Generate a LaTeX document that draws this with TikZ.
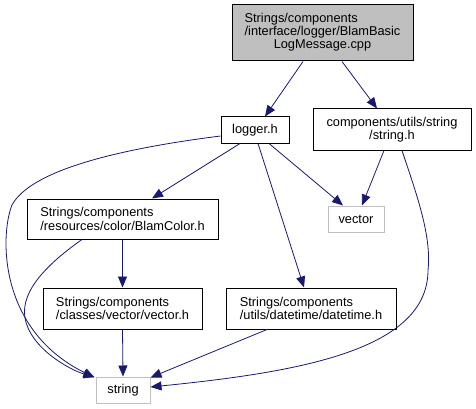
\documentclass[tikz,border=0pt]{standalone}
\usepackage{fontspec}
\setmainfont{Liberation Sans}
\usetikzlibrary{arrows.meta}
\definecolor{edgeblue}{HTML}{191970}
\definecolor{boxgray}{HTML}{BFBFBF}

\begin{document}
\begin{tikzpicture}[x=1pt, y=-1pt,
    file/.style={draw=black, line width=1pt, inner sep=0pt, font=\fontsize{12.8}{13.3}\selectfont},
    sysfile/.style={file, draw=boxgray},
    dep/.style={draw=edgeblue, line width=0.8pt, -{Triangle[length=11pt,width=9pt]}}]
    \useasboundingbox (0,0) rectangle (476,409);
    % files
    \node[file, fill=boxgray, minimum width=181pt, minimum height=56pt] (msg) at (322.5,33)
        {\begin{tabular}{@{}l@{}}Strings/components\\/interface/logger/BlamBasic\\\multicolumn{1}{@{}c@{}}{LogMessage.cpp}\end{tabular}};
    \node[file, minimum width=68pt, minimum height=26pt] (logger) at (255,130) {logger.h};
    \node[file, align=center, minimum width=158pt, minimum height=41pt] (strh) at (392,129.5) {components/utils/string\\/string.h};
    \node[sysfile, minimum width=56pt, minimum height=26pt] (vec) at (356,219) {vector};
    \node[file, align=left, minimum width=191pt, minimum height=40pt] (color) at (122.5,219) {Strings/components\\/resources/color/BlamColor.h};
    \node[file, align=left, minimum width=159pt, minimum height=41pt] (vech) at (122.5,308.5) {Strings/components\\/classes/vector/vector.h};
    \node[file, align=left, minimum width=170pt, minimum height=41pt] (dt) at (311,308.5) {Strings/components\\/utils/datetime/datetime.h};
    \node[sysfile, minimum width=54pt, minimum height=26pt] (str) at (123,390) {string};
    % includes
    \path ([xshift=-19.5pt]msg.south) edge[dep] ([xshift=10pt]logger.north);
    \path ([xshift=19.5pt]msg.south) edge[dep] ([xshift=-15pt]strh.north);
    \path ([xshift=-15pt]logger.south) edge[dep] ([xshift=29.5pt]color.north);
    \path ([xshift=14pt]logger.south) edge[dep] ([xshift=-13pt]vec.north);
    \path ([xshift=3pt]logger.south) edge[dep] ([xshift=-7pt]dt.north);
    \path ([xshift=-8pt]strh.south) edge[dep] ([xshift=6pt]vec.north);
    \path (color.south) edge[dep] (vech.north);
    \path (vech.south) edge[dep] (str.north);
    \path ([xshift=-44pt]dt.south) edge[dep] ([yshift=-1pt]str.north east);
    \draw[dep] ([yshift=-6pt]logger.west) .. controls (110,150) and (30,172) .. (12,205)
        .. controls (0,235) and (-2,330) .. ([xshift=-1pt,yshift=-1pt]str.north west);
    \draw[dep] ([xshift=-40.5pt]color.south) .. controls (50,262) and (20,290) .. (25,318)
        .. controls (30,348) and (70,370) .. ([xshift=-1pt,yshift=-0.5pt]str.north west);
    \draw[dep] ([xshift=10pt]strh.south) .. controls (415,190) and (432,235) .. (428,270)
        .. controls (428,350) and (300,372) .. ([yshift=3pt]str.east);
\end{tikzpicture}
\end{document}
